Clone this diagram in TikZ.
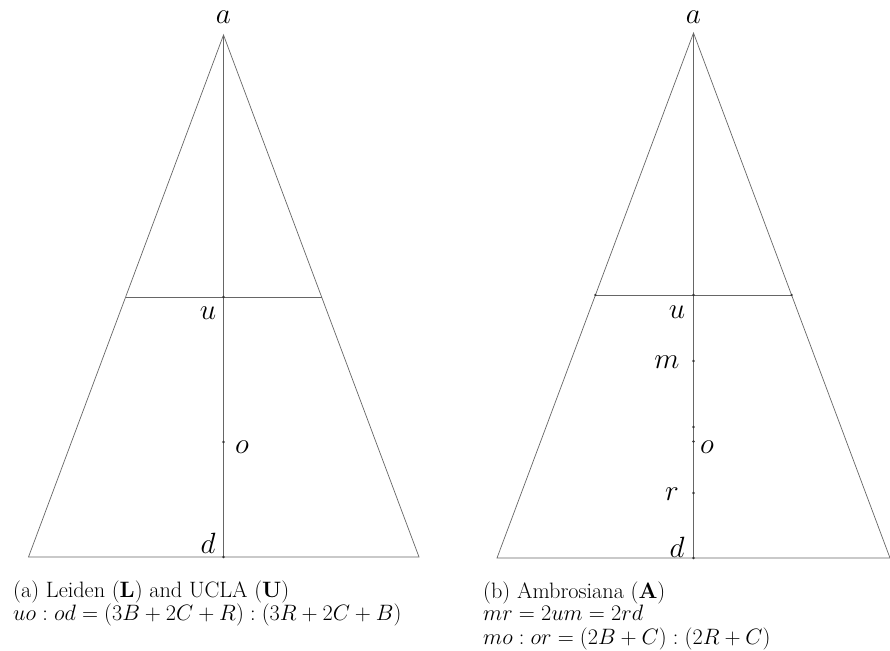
\documentclass[tikz,border=0pt]{standalone}
\usepackage{fix-cm}
\usepackage{amsmath}
\usepackage{tikz}
\usetikzlibrary{positioning}

\begin{document}
\begin{tikzpicture}[x=0.03cm, y=-0.03cm,
    edge/.style={line width=0.6pt, draw=black!60},
    lbl/.style={inner sep=0pt, font=\fontsize{25}{30}\selectfont},
    capt/.style={inner sep=0pt, anchor=base west, font=\fontsize{19}{21}\selectfont}]
    \useasboundingbox (0,0) rectangle (890,651);

    % (a) Leiden and UCLA
    \coordinate (a1) at (223.5,35);
    \coordinate (bl1) at (28.5,557);
    \coordinate (br1) at (419,557);
    \coordinate (hl1) at (125.6,297);
    \coordinate (hr1) at (321.6,297);
    \coordinate (u1) at (223.5,297);
    \coordinate (o1) at (223.5,442);
    \coordinate (d1) at (223.5,557);
    \draw[edge] (a1) -- (bl1) -- (br1) -- cycle;
    \draw[edge] (hl1) -- (hr1);
    \draw[edge] (a1) -- (d1);
    \foreach \p in {u1,o1,d1}
        \fill[black!80] (\p) circle (1.1pt);
    \node[lbl] (la1) at (223.5,17) {$a$};
    \node[lbl] (lu1) at (208,313) {$u$};
    \node[lbl] (lo1) at (242,447) {$o$};
    \node[lbl] (ld1) at (208,543) {$d$};
    \node[capt] (ca1) at (13,597) {(a) Leiden (\textbf{L}) and UCLA (\textbf{U})};
    \node[capt] (ca2) at (13,620) {$uo:od=(3B+2C+R):(3R+2C+B)$};

    % (b) Ambrosiana
    \coordinate (a2) at (693.5,33);
    \coordinate (bl2) at (497,558);
    \coordinate (br2) at (890,558);
    \coordinate (hl2) at (595.4,295);
    \coordinate (hr2) at (791.6,295);
    \coordinate (u2) at (693.5,295);
    \coordinate (m2) at (693.5,361);
    \coordinate (c2) at (693.5,427);
    \coordinate (o2) at (693.5,441.5);
    \coordinate (r2) at (693.5,493);
    \coordinate (d2) at (693.5,558);
    \draw[edge] (a2) -- (bl2) -- (br2) -- cycle;
    \draw[edge] (hl2) -- (hr2);
    \draw[edge] (a2) -- (d2);
    \foreach \p in {hl2,hr2,u2,m2,c2,o2,r2,d2}
        \fill[black!80] (\p) circle (1.1pt);
    \node[lbl] (la2) at (693.5,17) {$a$};
    \node[lbl] (lu2) at (677,312) {$u$};
    \node[lbl] (lm2) at (667,362) {$m$};
    \node[lbl] (lo2) at (707,447) {$o$};
    \node[lbl] (lr2) at (672,494) {$r$};
    \node[lbl] (ld2) at (677,547) {$d$};
    \node[capt] (cb1) at (483,598) {(b) Ambrosiana (\textbf{A})};
    \node[capt] (cb2) at (483,620) {$mr=2um=2rd$};
    \node[capt] (cb3) at (483,644) {$mo:or=(2B+C):(2R+C)$};
\end{tikzpicture}
\end{document}
